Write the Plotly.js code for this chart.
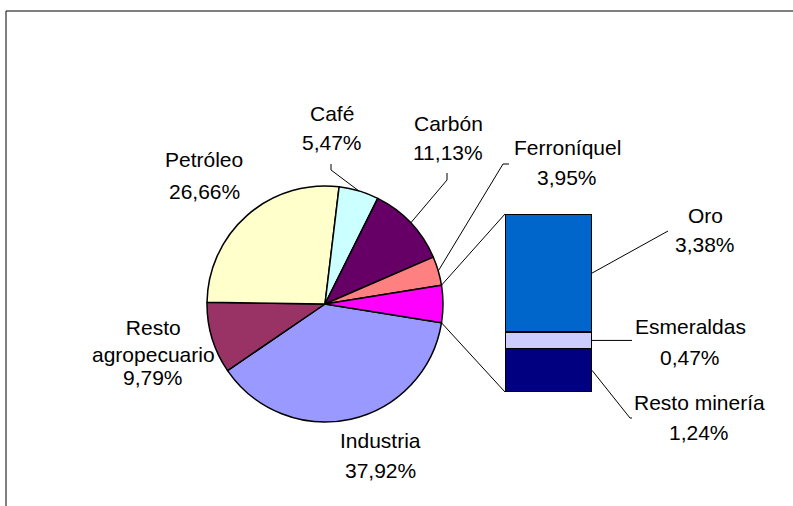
<!DOCTYPE html>
<html><head><meta charset="utf-8">
<script src="https://cdn.plot.ly/plotly-3.0.1.min.js"></script>
<style>html,body{margin:0;padding:0;background:#fff}#chart{width:793px;height:506px}</style>
</head><body><div id="chart"></div>
<script>
// ---- data ----
const pieLabels = ['Industria', 'Resto agropecuario', 'Petróleo', 'Café', 'Carbón', 'Ferroníquel'];
const pieValues = [37.92, 9.79, 26.66, 5.47, 11.13, 3.95];
const barLabels = ['Oro', 'Esmeraldas', 'Resto minería'];
const barValues = [3.38, 0.47, 1.24];

// ---- styles ----
const pieColors = ['#9999FF', '#993366', '#FFFFCC', '#CCFFFF', '#660066', '#FF8080'];
const otherColor = '#FF00FF';
const barColors = ['#0066CC', '#CCCCFF', '#000080'];
const FONT = 'Liberation Sans, Arial, sans-serif';
const FS = 21;

// ---- layout geometry (pixels) ----
const W = 793, H = 506;
const cx = 325, cy = 304, R = 118;
const bx0 = 505, bx1 = 592, byTop = 214, byBot = 392;
const px = x => x / W;
const py = y => 1 - y / H;

// label positions: name centre, value centre, leader elbow points
const pieLabelPos = {
  'Industria':          {nx: 380, ny: 440, vy: 470},
  'Resto agropecuario': {nx: 153, ny: 341, vy: 377, br: true},
  'Petróleo':           {nx: 204, ny: 160, vy: 191},
  'Café':               {nx: 332, ny: 113, vy: 143, leader: [[331, 164], [331, 170]]},
  'Carbón':             {nx: 448, ny: 123, vy: 152, leader: [[447, 173], [447, 180]]},
  'Ferroníquel':        {nx: 567, ny: 147, vy: 178, leader: [[509, 164], [503, 164]]}
};
const barLabelPos = {
  'Oro':           {nx: 705, ny: 215, vy: 244, leader: [[668, 231]]},
  'Esmeraldas':    {nx: 690, ny: 326, vy: 357, leader: [[632, null]]},
  'Resto minería': {nx: 699, ny: 402, vy: 432, leader: [[632, 418], [630, 418]]}
};

const fmt = v => v.toFixed(2).replace('.', ',') + '%';

const otherTotal = barValues.reduce((a, b) => a + b, 0);
const allPieValues = pieValues.concat([otherTotal]);
const pieTotal = allPieValues.reduce((a, b) => a + b, 0);
// Excel pie-of-bar: the "other" slice is centred at 3 o'clock
const rotation = 90 + 360 * (otherTotal / pieTotal) / 2;

function piePoint(deg) {
  const a = deg * Math.PI / 180;
  return [cx + R * Math.sin(a), cy - R * Math.cos(a)];
}

const traces = [];
traces.push({
  type: 'pie',
  labels: pieLabels.concat(['Otros minería']),
  values: allPieValues,
  sort: false,
  direction: 'clockwise',
  rotation: rotation,
  textinfo: 'none',
  hoverinfo: 'label+value',
  marker: {colors: pieColors.concat([otherColor]), line: {color: '#000', width: 1.5}},
  domain: {x: [px(cx - R), px(cx + R)], y: [py(cy + R), py(cy - R)]},
  showlegend: false
});

// stacked bar: bottom-first
for (let i = barLabels.length - 1; i >= 0; i--) {
  traces.push({
    type: 'bar',
    x: [0],
    y: [barValues[i]],
    name: barLabels[i],
    marker: {color: barColors[i], line: {color: '#000', width: 1.5}},
    hoverinfo: 'name+y',
    showlegend: false,
    xaxis: 'x', yaxis: 'y'
  });
}

const annotations = [];
const shapes = [];

function addLabel(name, value, pos) {
  const txt = pos.br ? name.replace(' ', '<br>') : name;
  annotations.push({xref: 'paper', yref: 'paper', x: px(pos.nx), y: py(pos.ny), text: txt,
    showarrow: false, xanchor: 'center', yanchor: 'middle', font: {family: FONT, size: FS, color: '#000'}});
  annotations.push({xref: 'paper', yref: 'paper', x: px(pos.nx), y: py(pos.vy), text: fmt(value),
    showarrow: false, xanchor: 'center', yanchor: 'middle', font: {family: FONT, size: FS, color: '#000'}});
}

function addPolyline(pts) {
  for (let k = 0; k < pts.length - 1; k++) {
    shapes.push({type: 'line', xref: 'paper', yref: 'paper',
      x0: px(pts[k][0]), y0: py(pts[k][1]), x1: px(pts[k + 1][0]), y1: py(pts[k + 1][1]),
      line: {color: '#000', width: 1}});
  }
}

// pie labels + leaders
let cum = 0;
pieLabels.forEach((lab, i) => {
  const a0 = rotation + 360 * cum / pieTotal;
  cum += pieValues[i];
  const a1 = rotation + 360 * cum / pieTotal;
  const pos = pieLabelPos[lab];
  addLabel(lab, pieValues[i], pos);
  if (pos.leader) {
    const edge = piePoint((a0 + a1) / 2);
    addPolyline(pos.leader.concat([edge]));
  }
});

// bar labels + leaders
const barPx = v => byBot - v / otherTotal * (byBot - byTop);
let bcum = 0;
const mids = {};
for (let i = barLabels.length - 1; i >= 0; i--) {
  mids[barLabels[i]] = bcum + barValues[i] / 2;
  bcum += barValues[i];
}
barLabels.forEach((lab, i) => {
  const pos = barLabelPos[lab];
  addLabel(lab, barValues[i], pos);
  const yMid = barPx(mids[lab]);
  const pts = pos.leader.map(p => [p[0], p[1] === null ? yMid : p[1]]);
  addPolyline([[bx1, yMid]].concat(pts.reverse()).reverse().reverse());
});

// connectors from "other" slice edges to bar corners
const otherTop = piePoint(rotation + 360 * (1 - otherTotal / pieTotal));
const otherBot = piePoint(rotation);
addPolyline([otherTop, [bx0, barPx(otherTotal)]]);
addPolyline([otherBot, [bx0, barPx(0)]]);

// chart frame
shapes.push({type: 'rect', xref: 'paper', yref: 'paper', x0: px(6), y0: -0.2, x1: 1.2, y1: py(11),
  line: {color: '#000', width: 1}, fillcolor: 'rgba(0,0,0,0)', layer: 'below'});

const layout = {
  width: W, height: H,
  margin: {l: 0, r: 0, t: 0, b: 0},
  paper_bgcolor: '#fff', plot_bgcolor: 'rgba(0,0,0,0)',
  barmode: 'stack', bargap: 0,
  showlegend: false,
  xaxis: {domain: [px(bx0), px(bx1)], range: [-0.5, 0.5], visible: false, fixedrange: true},
  yaxis: {domain: [py(byBot), py(byTop)], range: [0, otherTotal], visible: false, fixedrange: true},
  annotations: annotations,
  shapes: shapes,
  font: {family: FONT}
};

Plotly.newPlot('chart', traces, layout, {displayModeBar: false, staticPlot: true});
</script>
</body></html>
